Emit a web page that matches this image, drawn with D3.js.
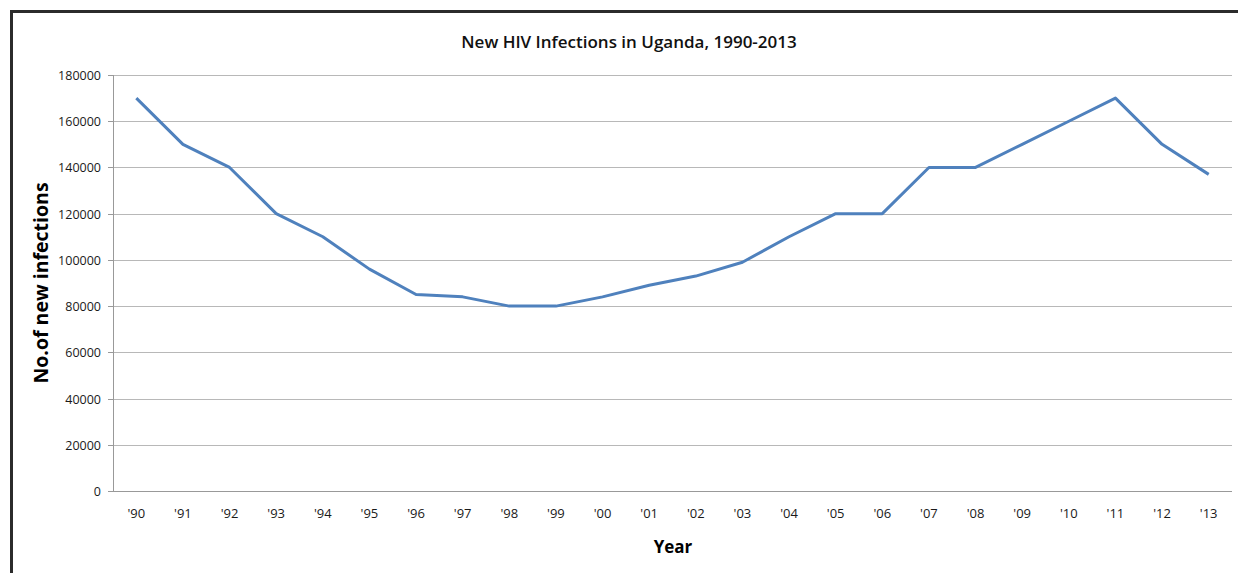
<!DOCTYPE html>
<html>
<head>
<meta charset="utf-8">
<script src="https://cdn.jsdelivr.net/npm/d3@7"></script>
<style>
  body { margin: 0; background: #fff; }
  svg { display: block; font-family: "Open Sans", "Noto Sans", sans-serif; }
</style>
</head>
<body>
<div id="chart"></div>
<script>
// data
const years = ["'90", "'91", "'92", "'93", "'94", "'95", "'96", "'97", "'98", "'99", "'00", "'01",
               "'02", "'03", "'04", "'05", "'06", "'07", "'08", "'09", "'10", "'11", "'12", "'13"];
const infections = [170000, 150000, 140000, 120000, 110000, 96000, 85000, 84000, 80000, 80000, 84000, 89000,
                    93000, 99000, 110000, 120000, 120000, 140000, 140000, 150000, 160000, 170000, 150000, 137000];
const yTicks = [0, 20000, 40000, 60000, 80000, 100000, 120000, 140000, 160000, 180000];

const W = 1238, H = 573;
const margin = { top: 75, right: 6, bottom: 82, left: 113 };
const width = W - margin.left - margin.right;
const height = H - margin.top - margin.bottom;

const svg = d3.select('#chart').append('svg')
    .attr('width', W)
    .attr('height', H);

// outer frame (only top and left edges visible)
svg.append('path')
    .attr('d', 'M11.5,' + H + 'V11.5H' + W)
    .attr('fill', 'none')
    .attr('stroke', '#2b2b2b')
    .attr('stroke-width', 3);

const group = svg.append('g')
    .attr('transform', 'translate(' + margin.left + ',' + margin.top + ')');

const xScale = d3.scaleBand().domain(years).range([0, width]);
const yScale = d3.scaleLinear().domain([0, 180000]).range([height, 0]);

// gridlines
group.append('g')
    .selectAll('line')
    .data(yTicks.slice(1))
    .enter()
    .append('line')
    .attr('x1', 0)
    .attr('x2', width)
    .attr('y1', d => Math.round(yScale(d)) + 0.5)
    .attr('y2', d => Math.round(yScale(d)) + 0.5)
    .attr('stroke', '#b8b8b8')
    .attr('stroke-width', 1);

// y axis
const yAxis = d3.axisLeft(yScale).tickValues(yTicks).tickSize(5).tickPadding(7).tickFormat(d3.format('d'));
const yAxisGroup = group.append('g').attr('class', 'y-axis').call(yAxis);
yAxisGroup.select('.domain').attr('stroke', '#999').attr('d', 'M0.5,' + height + 'V0');
yAxisGroup.selectAll('.tick line').attr('stroke', '#999');
yAxisGroup.selectAll('.tick').attr('transform', d => 'translate(0,' + (Math.round(yScale(d)) + 0.5) + ')');
yAxisGroup.selectAll('text').attr('font-size', 12.5).attr('fill', '#1a1a1a')
    .attr('font-family', '"Open Sans", sans-serif');

// x axis
const xAxis = d3.axisBottom(xScale).tickSize(0).tickPadding(18);
const xAxisGroup = group.append('g').attr('class', 'x-axis')
    .attr('transform', 'translate(0,' + height + ')')
    .call(xAxis);
xAxisGroup.select('.domain').attr('stroke', '#999').attr('d', 'M0,0.5H' + width);
xAxisGroup.selectAll('text').attr('font-size', 13).attr('fill', '#1a1a1a')
    .attr('font-family', '"Open Sans", sans-serif');

// the line
const line = d3.line()
    .x((d, i) => xScale(years[i]) + xScale.bandwidth() / 2)
    .y(d => yScale(d));

group.append('path')
    .datum(infections)
    .attr('d', line)
    .attr('fill', 'none')
    .attr('stroke', '#4f81bd')
    .attr('stroke-width', 3)
    .attr('stroke-linejoin', 'round');

// titles
svg.append('text')
    .attr('x', 629)
    .attr('y', 48)
    .attr('text-anchor', 'middle')
    .attr('font-size', 17)
    .attr('font-weight', 600)
    .attr('fill', '#111')
    .text('New HIV Infections in Uganda, 1990-2013');

svg.append('text')
    .attr('transform', 'translate(48,283) rotate(-90)')
    .attr('text-anchor', 'middle')
    .attr('font-size', 19.5)
    .attr('font-weight', 'bold')
    .attr('fill', '#000')
    .text('No.of new infections');

svg.append('text')
    .attr('x', 673)
    .attr('y', 553)
    .attr('text-anchor', 'middle')
    .attr('font-size', 17)
    .attr('font-weight', 'bold')
    .attr('fill', '#000')
    .text('Year');
</script>
</body>
</html>
